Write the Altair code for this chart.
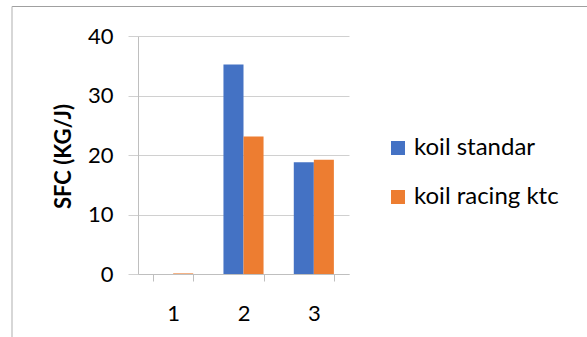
import altair as alt
import pandas as pd

categories = ["1", "2", "3"]
series_names = ["koil standar", "koil racing ktc"]
koil_standar = [0.0, 35.2, 18.8]
koil_racing = [0.1, 23.1, 19.2]
y_ticks = [0, 10, 20, 30, 40]
colors = ["#4472C4", "#ED7D31"]

rows = []
for i, c in enumerate(categories):
    rows.append({"cat": c, "series": series_names[0], "value": koil_standar[i]})
    rows.append({"cat": c, "series": series_names[1], "value": koil_racing[i]})
df = pd.DataFrame(rows)

FONT = "Lato"
W, H = 211, 238
PL, PT = 138, 36

bars = alt.Chart(df).mark_bar().encode(
    x=alt.X("cat:N", sort=categories,
            scale=alt.Scale(paddingInner=0.43, paddingOuter=0.215),
            axis=alt.Axis(title=None, labelAngle=0, labelFontSize=22, labelFont=FONT,
                          labelColor="#000000", labelPadding=22, tickBand="extent",
                          tickSize=7, tickColor="#bfbfbf", domainColor="#bfbfbf",
                          grid=False)),
    xOffset=alt.XOffset("series:N", sort=series_names, scale=alt.Scale(paddingInner=0, paddingOuter=0)),
    y=alt.Y("value:Q", scale=alt.Scale(domain=[0, 40], nice=False),
            axis=alt.Axis(values=y_ticks, title="SFC (KG/J)", titleFont=FONT,
                          titleFontSize=22, titleFontWeight="bold", titleColor="#000000",
                          titleAngle=270, titleX=-75, titleY=120, titleAlign="center",
                          titleBaseline="middle",
                          labelFontSize=22, labelFont=FONT, labelColor="#000000",
                          labelPadding=15, tickSize=10, tickColor="#d0d0d0",
                          domainColor="#bfbfbf", gridColor="#d0d0d0")),
    color=alt.Color("series:N", sort=series_names,
                    scale=alt.Scale(domain=series_names, range=colors),
                    legend=alt.Legend(title=None, orient="none", legendX=248, legendY=100,
                                      symbolType="square", symbolSize=196,
                                      symbolStrokeWidth=0, labelFont=FONT,
                                      labelFontSize=24, labelColor="#000000",
                                      labelOffset=4, rowPadding=25)),
)

frame_top = alt.Chart(pd.DataFrame({"k": [0]})).mark_rule(color="#a0a0a0", strokeWidth=1.2).encode(
    x=alt.value(-126), x2=alt.value(449), y=alt.value(-29.5)
)
frame_left = alt.Chart(pd.DataFrame({"k": [0]})).mark_rule(color="#bdbdbd", strokeWidth=1.2).encode(
    x=alt.value(-126), y=alt.value(-29.5), y2=alt.value(305)
)

chart = alt.layer(bars, frame_top, frame_left).properties(
    width=W, height=H,
    autosize=alt.AutoSizeParams(type="none"),
    padding={"left": PL, "top": PT, "right": 587 - PL - W, "bottom": 337 - PT - H},
    background="#ffffff",
).configure_view(stroke="transparent")

chart.save("out.html", embed_options={"renderer": "svg", "actions": False})
